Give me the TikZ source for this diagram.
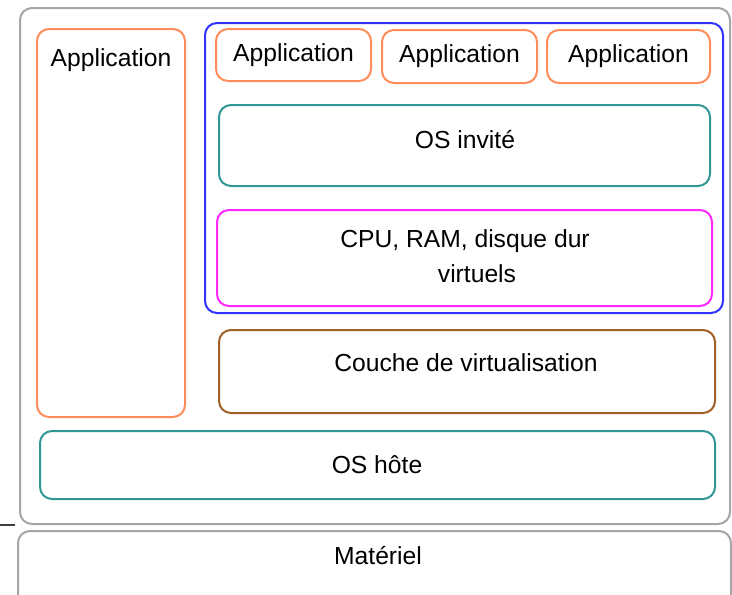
\documentclass[tikz,border=0pt]{standalone}
\usepackage{fontspec}
\setmainfont{Liberation Sans}
\usetikzlibrary{fit}
\definecolor{orng}{RGB}{255,140,90}
\definecolor{blu}{RGB}{50,50,255}
\definecolor{teal2}{RGB}{50,150,150}
\definecolor{mag}{RGB}{255,40,255}
\definecolor{brwn}{RGB}{160,96,40}
\definecolor{gry}{RGB}{165,165,165}
\tikzset{
  bx/.style={draw, rounded corners=9pt, line width=1.5pt, inner sep=0pt},
  txt/.style={font=\fontsize{18.5}{23}\selectfont, inner sep=0pt, align=center}
}
\begin{document}
\begin{tikzpicture}[x=0.75pt,y=-0.75pt]
\useasboundingbox (0,0) rectangle (732,594);
\clip (0,0) rectangle (732,594);
% outer boxes
\node[bx, draw=gry, fit={(20,8) (730,524)}] (host) {};
\node[bx, draw=gry, fit={(18,531) (731,640)}] (hw) {};
\coordinate (dashA) at (0,525);
\coordinate (dashB) at (15,525);
\draw[line width=1.2pt, black!75] (dashA) -- (dashB);
% left application
\node[bx, draw=orng, fit={(37,29) (185,417)}] (app0) {};
% VM
\node[bx, draw=blu, fit={(205,23) (723,313)}] (vm) {};
\node[bx, draw=orng, fit={(216,29) (371,81)}] (app1) {};
\node[bx, draw=orng, fit={(382,30) (537,83)}] (app2) {};
\node[bx, draw=orng, fit={(547,30) (710,83)}] (app3) {};
\node[bx, draw=teal2, fit={(219,105) (710,186)}] (guest) {};
\node[bx, draw=mag, fit={(217,210) (712,306)}] (vhw) {};
% virtualization layer and host OS
\node[bx, draw=brwn, fit={(219,330) (715,413)}] (virt) {};
\node[bx, draw=teal2, fit={(40,431) (715,499)}] (hostos) {};
% texts
\node[txt] (t0) at (111,60) {Application};
\node[txt] (t1) at (app1.center) {Application};
\node[txt] (t2) at (app2.center) {Application};
\node[txt] (t3) at (app3.center) {Application};
\node[txt] (tg) at (465,140) {OS invité};
\node[txt] (tv1) at (465,241) {CPU, RAM, disque dur};
\node[txt] (tv2) at (477,274) {virtuels};
\node[txt] (tvirt) at (466,363) {Couche de virtualisation};
\node[txt] (thost) at (377,465) {OS hôte};
\node[txt] (thw) at (378,556) {Matériel};
\end{tikzpicture}
\end{document}
